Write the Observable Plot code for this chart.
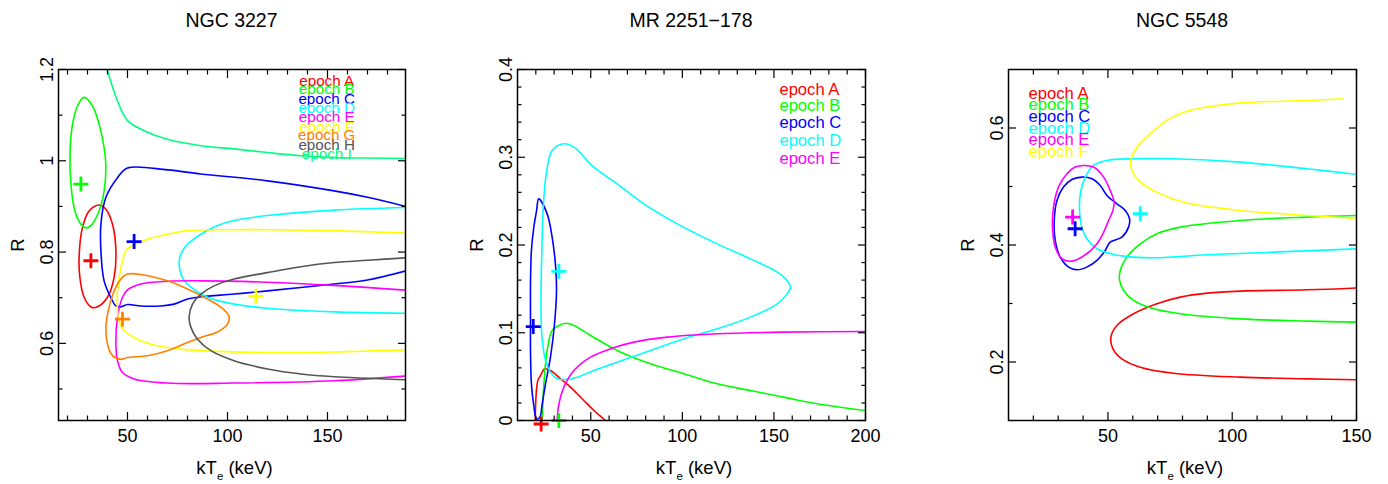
<!DOCTYPE html>
<html><head><meta charset="utf-8">
<script src="https://cdn.jsdelivr.net/npm/d3@7"></script>
<script src="https://cdn.jsdelivr.net/npm/@observablehq/plot@0.6"></script>
<style>
html,body{margin:0;padding:0;background:#fff;}
#wrap{position:relative;width:1388px;height:484px;overflow:hidden;font-family:"Liberation Sans",Arial,Helvetica,sans-serif;color:#000;}
.panel{position:absolute;top:0;}
.title{position:absolute;top:10px;width:300px;text-align:center;font-size:19.5px;line-height:20px;white-space:nowrap;}
.xlab{position:absolute;top:458px;width:300px;text-align:center;font-size:18.5px;line-height:20px;white-space:nowrap;}
.xlab sub{font-size:11.5px;line-height:10px;vertical-align:baseline;position:relative;top:6px;}
.ylab{position:absolute;font-size:18.5px;line-height:20px;transform:translate(-50%,-50%) rotate(-90deg);white-space:nowrap;}
</style></head><body><div id="wrap"></div>
<script>
const FONT = '"Liberation Sans", Arial, Helvetica, sans-serif';
const COLORS = {A:"#ff0000",B:"#00ff00",C:"#0000ff",D:"#00ffff",E:"#ff00ff",F:"#ffff00",G:"#ff8000",H:"#555555",I:"#00ff80"};

// ---------- Panel 1: NGC 3227 ----------
const p1A = [[35.8,0.903],[39.2,0.894],[42.5,0.861],[44.2,0.803],[43.3,0.744],[40,0.701],[35,0.680],[32,0.679],[28.3,0.701],[26.2,0.744],[25.8,0.788],[27.5,0.854],[30.8,0.890]];
const p1B = [[28.3,1.139],[32.5,1.120],[35.8,1.080],[38.3,1.029],[39.2,0.985],[38.3,0.934],[35.8,0.890],[31.7,0.858],[29.2,0.853],[26.7,0.861],[23.7,0.890],[21.7,0.949],[21.3,1.022],[22.5,1.080],[25,1.120]];
const p1C = [[191,0.898],[170,0.92],[153.3,0.934],[120,0.956],[86.7,0.971],[70,0.98],[50,0.984],[45,0.963],[39.2,0.92],[36.7,0.861],[36.7,0.803],[38.3,0.737],[41.7,0.7],[44.2,0.682],[46.7,0.68],[50,0.685],[56.7,0.682],[66.7,0.682],[73.3,0.686],[80,0.697],[86.7,0.702],[103.3,0.708],[120,0.715],[153.3,0.73],[170,0.739],[191,0.761]];
const p1D = [[191,0.898],[153.3,0.892],[120,0.880],[103.3,0.869],[95,0.858],[86.7,0.839],[80,0.817],[76.7,0.796],[75.8,0.774],[77.5,0.744],[81.7,0.723],[90,0.701],[103.3,0.686],[120,0.677],[153.3,0.669],[191,0.666]];
const p1E = [[191,0.716],[153.3,0.727],[120,0.734],[86.7,0.737],[70,0.736],[56.7,0.73],[50,0.717],[47.5,0.701],[45,0.657],[44.2,0.598],[45,0.562],[47.5,0.536],[53.3,0.522],[70,0.513],[103.3,0.513],[153.3,0.518],[191,0.529]];
const p1F = [[191,0.841],[153.3,0.847],[120,0.849],[103.3,0.849],[80,0.847],[70,0.839],[60,0.828],[50.8,0.81],[49.2,0.803],[46.7,0.766],[45,0.715],[45,0.671],[45.8,0.649],[48.3,0.628],[53.3,0.613],[61.7,0.598],[73.3,0.589],[86.7,0.584],[120,0.58],[153.3,0.581],[191,0.586]];
const p1G = [[50,0.752],[56.7,0.751],[70,0.737],[80,0.719],[90,0.697],[96.7,0.679],[100.8,0.659],[100,0.642],[95,0.625],[86.7,0.613],[80,0.602],[70,0.584],[60,0.573],[50,0.569],[46.7,0.565],[42.5,0.573],[40,0.598],[39.2,0.635],[40.8,0.679],[44.2,0.723],[47.5,0.745]];
const p1H = [[191,0.788],[170,0.782],[153.3,0.777],[136.7,0.768],[120,0.755],[103.3,0.741],[93.3,0.726],[86.7,0.708],[82.5,0.686],[80.8,0.657],[81.7,0.635],[85,0.609],[91.7,0.584],[103.3,0.562],[120,0.544],[136.7,0.533],[153.3,0.527],[191,0.520]];
const p1I = [[38.5,1.22],[45,1.131],[50,1.088],[58.3,1.066],[70,1.047],[86.7,1.033],[103.3,1.026],[120,1.018],[136.7,1.011],[153.3,1.007],[170,1.006],[191,1.005]];
const p1Best = [["A",31.7,0.781],["B",26.7,0.949],["C",53.3,0.823],["F",114.2,0.703],["G",47.5,0.653]];
const p1Epochs = ["A","B","C","D","E","F","G","H","I"];
const p1LegendY = [1.175,1.156,1.135,1.115,1.095,1.074,1.056,1.035,1.015];

// ---------- Panel 2: MR 2251-178 ----------
const p2A = [[19.6,-0.006],[21.1,0.0456],[22.6,0.0513],[24.9,0.0589],[28.0,0.057],[33.5,0.0475],[38.9,0.038],[46.2,0.0228],[51.7,0.0114],[58.0,0],[59.5,-0.004]];
const p2B = [[23.4,-0.006],[24.4,0.0418],[26.2,0.0798],[28.9,0.1026],[32.6,0.1083],[36.2,0.1109],[40.8,0.1083],[49.9,0.0969],[64.4,0.0798],[82.6,0.0646],[100.8,0.0532],[119,0.0418],[137.2,0.0342],[155.4,0.0266],[173.6,0.019],[202,0.0108]];
const p2C = [[21.6,0.2526],[26.2,0.2355],[28.9,0.209],[30.7,0.1785],[31.3,0.148],[30.2,0.110],[28.0,0.0722],[25.3,0.0418],[23.5,0.019],[22.2,0.0038],[20.4,0.0019],[18.9,0.017],[17.6,0.0418],[17.1,0.0798],[17.1,0.118],[17.1,0.156],[17.6,0.194],[18.9,0.220],[20.4,0.239]];
const p2D = [[25.7,0.281],[28.9,0.3077],[35.3,0.3153],[40.8,0.3115],[51.7,0.2887],[64.4,0.2697],[79.0,0.2469],[97.2,0.2241],[119.0,0.2013],[137.2,0.1842],[151.8,0.169],[157.2,0.1595],[159.0,0.1519],[157.2,0.1443],[151.8,0.133],[137.2,0.1178],[119.0,0.1045],[100.8,0.0931],[82.6,0.0798],[64.4,0.0665],[51.7,0.057],[42.6,0.0494],[35.3,0.0467],[31.7,0.0475],[28.0,0.0551],[25.3,0.0684],[23.5,0.0912],[22.9,0.1178],[22.9,0.1557],[23.3,0.1937],[23.8,0.2317],[24.7,0.2621]];
const p2E = [[31.5,-0.004],[32.6,0.019],[35.3,0.038],[40.8,0.057],[49.9,0.0722],[60.8,0.0817],[73.5,0.0893],[91.7,0.095],[119,0.0988],[155.4,0.1007],[202,0.1014]];
const p2Best = [["A",22.9,-0.004],["B",32.6,0.0],["C",18.6,0.107],["D",32.6,0.170]];
const p2Epochs = ["A","B","C","D","E"];
const p2LegendY = [0.377,0.359,0.339,0.319,0.298];

// ---------- Panel 3: NGC 5548 ----------
const p3A = [[152,0.3270],[130.1,0.3234],[103.3,0.3212],[89.9,0.3177],[79.1,0.3109],[69.7,0.2995],[60.3,0.2824],[53.6,0.2624],[51.2,0.2425],[52.0,0.2225],[55.6,0.2054],[63.0,0.1912],[76.4,0.1809],[103.3,0.1741],[130.1,0.1712],[152,0.1694]];
const p3B = [[152,0.4506],[130.1,0.4477],[103.3,0.442],[79.1,0.4306],[69.7,0.4192],[63.0,0.4021],[57.6,0.3793],[54.96,0.3565],[54.7,0.3394],[56.3,0.3223],[60.3,0.3052],[67.0,0.2927],[79.1,0.2824],[103.3,0.2738],[130.1,0.2699],[152,0.2680]];
const p3C = [[39.5,0.5161],[43.6,0.5132],[46.9,0.5018],[49.6,0.4847],[53.6,0.4705],[57.0,0.4591],[58.7,0.4448],[58.3,0.4306],[55.6,0.4135],[50.9,0.4049],[48.9,0.3907],[45.6,0.3736],[41.5,0.3622],[37.5,0.3576],[34.2,0.3622],[30.8,0.3793],[28.8,0.4078],[28.4,0.442],[29.5,0.4762],[32.1,0.499],[35.5,0.5121]];
const p3D = [[152,0.5200],[130.1,0.5303],[103.3,0.5417],[76.4,0.5474],[60.3,0.5474],[49.6,0.5446],[44.2,0.536],[40.9,0.516],[38.9,0.4876],[38.6,0.4591],[39.5,0.4306],[41.5,0.4106],[45.6,0.3935],[52.3,0.3839],[60.3,0.3793],[69.7,0.3782],[89.9,0.3833],[116.7,0.3878],[152,0.3937]];
const p3E = [[40.2,0.536],[44.2,0.5332],[48.3,0.516],[50.9,0.4933],[52.5,0.4733],[52.0,0.4591],[50.3,0.442],[48.3,0.422],[45.6,0.402],[41.5,0.385],[35.5,0.3725],[31.5,0.3765],[28.8,0.3964],[27.7,0.4306],[28.1,0.4648],[30.1,0.499],[33.5,0.5218],[36.8,0.5332]];
const p3F = [[144.2,0.650],[130.1,0.647],[103.3,0.643],[89.9,0.636],[80.5,0.627],[73.7,0.613],[67.0,0.590],[61.7,0.567],[59.3,0.547],[59.7,0.527],[63.0,0.508],[69.7,0.490],[80.5,0.473],[103.3,0.459],[130.1,0.4505],[152,0.4455]];
const p3Best = [["C",36.8,0.4278],["D",63.0,0.4534],["E",35.8,0.4477]];
const p3Epochs = ["A","B","C","D","E","F"];
const p3LegendY = [0.659,0.639,0.619,0.599,0.580,0.560];

// ---------- ticks ----------
const p1XMajor = [50,100,150], p1XMinor = [20,30,40,60,70,80,90,110,120,130,140,160,170,180];
const p1YMajor = [0.6,0.8,1,1.2], p1YMinor = [0.5,0.7,0.9,1.1];
const p2XMajor = [50,100,150,200], p2XMinor = [20,30,40,60,70,80,90,110,120,130,140,160,170,180,190];
const p2YMajor = [0,0.1,0.2,0.3,0.4], p2YMinor = [0.02,0.04,0.06,0.08,0.12,0.14,0.16,0.18,0.22,0.24,0.26,0.28,0.32,0.34,0.36,0.38];
const p3XMajor = [50,100,150], p3XMinor = [20,30,40,60,70,80,90,110,120,130,140];
const p3YMajor = [0.2,0.4,0.6], p3YMinor = [0.3,0.5];

const crossSymbol = {draw(ctx, size){ const r = Math.sqrt(size/Math.PI); ctx.moveTo(-r,0); ctx.lineTo(r,0); ctx.moveTo(0,-r); ctx.lineTo(0,r); }};

const panels = [
  {title:"NGC 3227", left:0, width:463, ml:58, mr:58, xd:[15.5,189], yd:[0.431,1.2],
   lines:[["A",p1A,true],["B",p1B,true],["C",p1C,false],["D",p1D,false],["E",p1E,false],["F",p1F,false],["G",p1G,true],["H",p1H,false],["I",p1I,false]],
   best:p1Best, epochs:p1Epochs, legY:p1LegendY, legX:149.6, legAnchor:"middle", legSize:15.2,
   xMaj:p1XMajor, xMin:p1XMinor, yMaj:p1YMajor, yMin:p1YMinor},
  {title:"MR 2251\u2212178", left:463, width:463, ml:54, mr:61, xd:[10,200], yd:[0,0.4],
   lines:[["A",p2A,false],["B",p2B,false],["C",p2C,true],["D",p2D,true],["E",p2E,false]],
   best:p2Best, epochs:p2Epochs, legY:p2LegendY, legX:153, legAnchor:"start", legSize:16.6,
   xMaj:p2XMajor, xMin:p2XMinor, yMaj:p2YMajor, yMin:p2YMinor},
  {title:"NGC 5548", left:926, width:462, ml:82, mr:32, xd:[10,150], yd:[0.1,0.7],
   lines:[["A",p3A,false],["B",p3B,false],["C",p3C,true],["D",p3D,false],["E",p3E,true],["F",p3F,false]],
   best:p3Best, epochs:p3Epochs, legY:p3LegendY, legX:18.05, legAnchor:"start", legSize:16.6,
   xMaj:p3XMajor, xMin:p3XMinor, yMaj:p3YMajor, yMin:p3YMinor}
];

const wrap = document.getElementById("wrap");
const H = 484, MT = 69, MB = 64;
const fmt = d => String(d);

for (const p of panels) {
  const tickOpts = {label:null, fill:"none", stroke:"#000", strokeWidth:1.2};
  const marks = [
    ...p.lines.map(([e, pts, closed]) => Plot.line(pts, {x: d=>d[0], y: d=>d[1], stroke: COLORS[e], strokeWidth: 1.6,
        curve: closed ? "catmull-rom-closed" : "catmull-rom", clip: true})),
    Plot.dot(p.best, {x: d=>d[1], y: d=>d[2], symbol: crossSymbol, r: 7.5, stroke: d=>COLORS[d[0]], fill: "none", strokeWidth: 2.8}),
    Plot.text(p.epochs, {x: () => p.legX, y: (d,i) => p.legY[i], text: d => "epoch " + d, fill: d => COLORS[d],
        fontSize: p.legSize, textAnchor: p.legAnchor, fontFamily: FONT}),
    Plot.axisX(p.xMaj, {anchor:"bottom", tickSize:-8, ...tickOpts}),
    Plot.axisX(p.xMin, {anchor:"bottom", tickSize:-4.5, ...tickOpts}),
    Plot.axisX(p.xMaj, {anchor:"top", tickSize:-8, ...tickOpts}),
    Plot.axisX(p.xMin, {anchor:"top", tickSize:-4.5, ...tickOpts}),
    Plot.axisY(p.yMaj, {anchor:"left", tickSize:-8, ...tickOpts}),
    Plot.axisY(p.yMin, {anchor:"left", tickSize:-4.5, ...tickOpts}),
    Plot.axisY(p.yMaj, {anchor:"right", tickSize:-8, ...tickOpts}),
    Plot.axisY(p.yMin, {anchor:"right", tickSize:-4.5, ...tickOpts}),
    Plot.axisX(p.xMaj, {anchor:"bottom", tickSize:0, tickPadding:9, label:null, fontSize:18, tickFormat: fmt, fill:"#000"}),
    Plot.axisY(p.yMaj, {anchor:"left", tickSize:0, tickPadding:6, tickRotate:-90, label:null, fontSize:18, tickFormat: fmt, fill:"#000"}),
    Plot.frame({stroke:"#000", strokeWidth:1.5})
  ];
  const chart = Plot.plot({
    width: p.width, height: H, marginTop: MT, marginBottom: MB, marginLeft: p.ml, marginRight: p.mr,
    x: {domain: p.xd}, y: {domain: p.yd},
    style: {fontFamily: FONT, background: "transparent", overflow: "visible", color: "#000"},
    marks
  });
  chart.classList.add("panel");
  chart.style.left = p.left + "px";
  wrap.appendChild(chart);

  const fl = p.left + p.ml, fr = p.left + p.width - p.mr, cx = (fl + fr) / 2;
  const t = document.createElement("div"); t.className = "title"; t.textContent = p.title;
  t.style.left = (cx - 150) + "px"; wrap.appendChild(t);
  const xl = document.createElement("div"); xl.className = "xlab";
  xl.innerHTML = "kT<sub>e</sub> (keV)"; xl.style.left = (cx - 150 + 3) + "px"; wrap.appendChild(xl);
  const yl = document.createElement("div"); yl.className = "ylab"; yl.textContent = "R";
  yl.style.left = (fl - 40) + "px"; yl.style.top = ((MT + H - MB) / 2) + "px"; wrap.appendChild(yl);
}
</script></body></html>
